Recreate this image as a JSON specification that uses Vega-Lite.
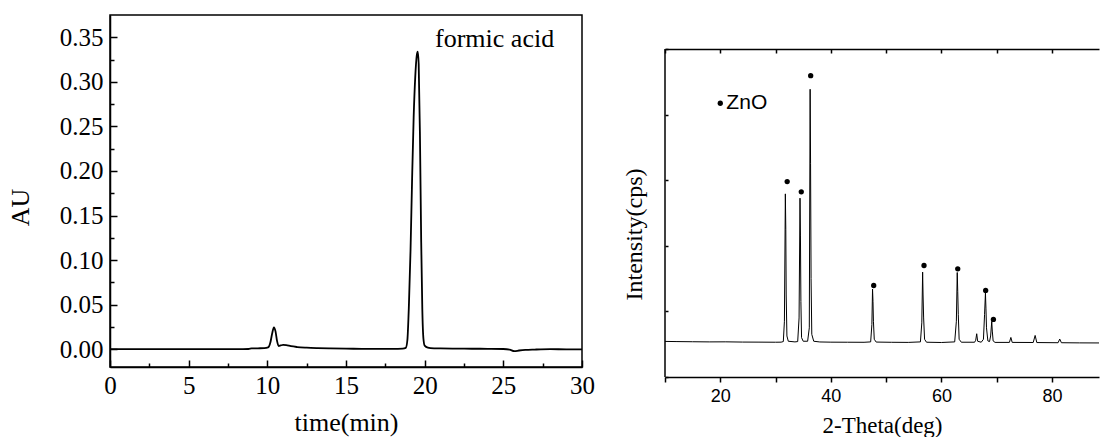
{
  "$schema": "https://vega.github.io/schema/vega-lite/v6.json",
  "padding": {"left": 6, "top": 14, "right": 0, "bottom": 0},
  "background": "white",
  "spacing": 26,
  "datasets": {
    "chrom": [
      {"t": 0, "au": 0}, {"t": 1, "au": 0}, {"t": 2, "au": 0.0001}, {"t": 3, "au": 0}, {"t": 4, "au": 0},
      {"t": 5, "au": 0.0001}, {"t": 6, "au": 0}, {"t": 7, "au": 0}, {"t": 8, "au": 0.0001}, {"t": 8.8, "au": 0.0002},
      {"t": 9.0, "au": 0.0008}, {"t": 9.4, "au": 0.001}, {"t": 9.8, "au": 0.0012}, {"t": 10.05, "au": 0.002},
      {"t": 10.2, "au": 0.008}, {"t": 10.3, "au": 0.017}, {"t": 10.42, "au": 0.0245}, {"t": 10.52, "au": 0.02},
      {"t": 10.62, "au": 0.009}, {"t": 10.72, "au": 0.0035}, {"t": 10.85, "au": 0.0042}, {"t": 11.0, "au": 0.0048},
      {"t": 11.2, "au": 0.0045}, {"t": 11.5, "au": 0.0033}, {"t": 11.9, "au": 0.0024}, {"t": 12.5, "au": 0.0017},
      {"t": 13.2, "au": 0.0012}, {"t": 14, "au": 0.0008}, {"t": 15, "au": 0.0006}, {"t": 16, "au": 0.0004},
      {"t": 17, "au": 0.0003}, {"t": 18, "au": 0.0003}, {"t": 18.6, "au": 0.0006}, {"t": 18.8, "au": 0.0015},
      {"t": 18.9, "au": 0.01}, {"t": 19.0, "au": 0.05}, {"t": 19.1, "au": 0.11}, {"t": 19.2, "au": 0.19},
      {"t": 19.3, "au": 0.26}, {"t": 19.4, "au": 0.305}, {"t": 19.5, "au": 0.33}, {"t": 19.56, "au": 0.334},
      {"t": 19.62, "au": 0.32}, {"t": 19.7, "au": 0.24}, {"t": 19.78, "au": 0.12}, {"t": 19.85, "au": 0.045},
      {"t": 19.92, "au": 0.012}, {"t": 20.0, "au": 0.004}, {"t": 20.2, "au": 0.0018}, {"t": 20.6, "au": 0.001},
      {"t": 21, "au": 0.0008}, {"t": 22, "au": 0.0006}, {"t": 23, "au": 0.0005}, {"t": 24, "au": 0.0004},
      {"t": 25, "au": 0.0002}, {"t": 25.4, "au": -0.0005}, {"t": 25.7, "au": -0.0022}, {"t": 26.0, "au": -0.0015},
      {"t": 26.4, "au": -0.0008}, {"t": 27, "au": -0.0004}, {"t": 28, "au": 0}, {"t": 29, "au": -0.0002}, {"t": 30, "au": -0.0002}
    ],
    "xrd": [
      {"deg": 10, "cps": 1085}, {"deg": 12, "cps": 1080}, {"deg": 15, "cps": 1075}, {"deg": 18, "cps": 1070},
      {"deg": 21, "cps": 1072}, {"deg": 24, "cps": 1065}, {"deg": 27, "cps": 1063}, {"deg": 30, "cps": 1060},
      {"deg": 31.0, "cps": 1062}, {"deg": 31.4, "cps": 1080}, {"deg": 31.6, "cps": 1700}, {"deg": 31.77, "cps": 5583},
      {"deg": 31.85, "cps": 4500}, {"deg": 31.92, "cps": 2500}, {"deg": 32.05, "cps": 1250}, {"deg": 32.3, "cps": 1090},
      {"deg": 33.5, "cps": 1070}, {"deg": 34.0, "cps": 1080}, {"deg": 34.25, "cps": 1800}, {"deg": 34.42, "cps": 5452},
      {"deg": 34.5, "cps": 4300}, {"deg": 34.58, "cps": 2300}, {"deg": 34.7, "cps": 1200}, {"deg": 35.0, "cps": 1090},
      {"deg": 35.8, "cps": 1090}, {"deg": 36.1, "cps": 1500}, {"deg": 36.25, "cps": 8772}, {"deg": 36.33, "cps": 6500},
      {"deg": 36.42, "cps": 3000}, {"deg": 36.55, "cps": 1300}, {"deg": 36.9, "cps": 1090}, {"deg": 38, "cps": 1068},
      {"deg": 40, "cps": 1062}, {"deg": 43, "cps": 1060}, {"deg": 46, "cps": 1058}, {"deg": 47.2, "cps": 1070},
      {"deg": 47.42, "cps": 1600}, {"deg": 47.54, "cps": 2680}, {"deg": 47.62, "cps": 2300}, {"deg": 47.7, "cps": 1700},
      {"deg": 47.85, "cps": 1150}, {"deg": 48.2, "cps": 1065}, {"deg": 51, "cps": 1058}, {"deg": 54, "cps": 1055},
      {"deg": 56.2, "cps": 1070}, {"deg": 56.45, "cps": 1650}, {"deg": 56.6, "cps": 3198}, {"deg": 56.68, "cps": 2500},
      {"deg": 56.78, "cps": 1800}, {"deg": 56.95, "cps": 1150}, {"deg": 57.3, "cps": 1060}, {"deg": 60, "cps": 1052},
      {"deg": 62.4, "cps": 1070}, {"deg": 62.7, "cps": 1700}, {"deg": 62.86, "cps": 3186}, {"deg": 62.95, "cps": 2600},
      {"deg": 63.05, "cps": 1900}, {"deg": 63.2, "cps": 1150}, {"deg": 63.6, "cps": 1060}, {"deg": 66.0, "cps": 1060},
      {"deg": 66.2, "cps": 1120}, {"deg": 66.38, "cps": 1319}, {"deg": 66.55, "cps": 1090}, {"deg": 67.2, "cps": 1060},
      {"deg": 67.6, "cps": 1150}, {"deg": 67.8, "cps": 1900}, {"deg": 67.96, "cps": 2559}, {"deg": 68.05, "cps": 2100},
      {"deg": 68.15, "cps": 1500}, {"deg": 68.4, "cps": 1100}, {"deg": 68.7, "cps": 1080}, {"deg": 68.9, "cps": 1250},
      {"deg": 69.1, "cps": 1694}, {"deg": 69.2, "cps": 1400}, {"deg": 69.35, "cps": 1100}, {"deg": 69.7, "cps": 1055},
      {"deg": 72.3, "cps": 1055}, {"deg": 72.56, "cps": 1206}, {"deg": 72.8, "cps": 1055}, {"deg": 76.6, "cps": 1052},
      {"deg": 76.95, "cps": 1267}, {"deg": 77.25, "cps": 1050}, {"deg": 81.1, "cps": 1045}, {"deg": 81.4, "cps": 1157},
      {"deg": 81.7, "cps": 1045}, {"deg": 85, "cps": 1040}, {"deg": 88.5, "cps": 1038}
    ],
    "dots": [
      {"deg": 32.1, "cps": 5958}, {"deg": 34.65, "cps": 5644}, {"deg": 36.35, "cps": 9187}, {"deg": 47.75, "cps": 2790},
      {"deg": 56.85, "cps": 3399}, {"deg": 62.95, "cps": 3299}, {"deg": 68.0, "cps": 2638}, {"deg": 69.4, "cps": 1754}
    ],
    "legend": [{"deg": 20.0, "cps": 8346, "tdeg": 21.1, "label": "ZnO"}],
    "border": [{"deg": 10, "cps": 0, "cps2": 10000}],
    "note": [{"t": 20.66, "au": 0.3388, "label": "formic acid"}]
  },
  "hconcat": [
    {
      "width": 472,
      "height": 352,
      "view": {"stroke": "black", "strokeWidth": 1.5},
      "resolve": {"axis": {"x": "independent", "y": "independent"}},
      "layer": [
        {
          "data": {"name": "chrom"},
          "mark": {"type": "line", "color": "black", "strokeWidth": 1.8, "interpolate": "monotone"},
          "encoding": {
            "x": {
              "field": "t", "type": "quantitative",
              "scale": {"domain": [0, 30], "nice": false, "zero": false},
              "axis": {
                "orient": "bottom",
                "values": [0, 5, 10, 15, 20, 25, 30],
                "format": "d",
                "tickSize": -7,
                "labelPadding": 13,
                "title": "time(min)",
                "titlePadding": 11
              }
            },
            "y": {
              "field": "au", "type": "quantitative",
              "scale": {"domain": [-0.02, 0.375], "nice": false, "zero": false},
              "axis": {
                "orient": "left",
                "values": [0, 0.05, 0.1, 0.15, 0.2, 0.25, 0.3, 0.35],
                "format": ".2f",
                "tickSize": -7,
                "labelPadding": 14,
                "title": "AU",
                "titlePadding": 26,
                "titleY": 192
              }
            }
          }
        },
        {
          "data": {"name": "note"},
          "mark": {"type": "text", "font": "Liberation Serif", "fontSize": 26, "align": "left", "baseline": "alphabetic", "color": "black"},
          "encoding": {
            "x": {
              "field": "t", "type": "quantitative",
              "axis": {"orient": "bottom", "values": [2.5, 7.5, 12.5, 17.5, 22.5, 27.5], "labels": false, "domain": false, "tickSize": -4, "title": null}
            },
            "y": {
              "field": "au", "type": "quantitative",
              "axis": {"orient": "left", "values": [0.025, 0.075, 0.125, 0.175, 0.225, 0.275, 0.325], "labels": false, "domain": false, "tickSize": -4, "title": null}
            },
            "text": {"field": "label"}
          }
        }
      ]
    },
    {
      "width": 434,
      "height": 362,
      "view": {"stroke": null},
      "resolve": {"axis": {"x": "independent"}},
      "layer": [
        {
          "data": {"name": "xrd"},
          "mark": {"type": "line", "color": "black", "strokeWidth": 1},
          "encoding": {
            "x": {
              "field": "deg", "type": "quantitative",
              "scale": {"domain": [10, 88.5], "nice": false, "zero": false},
              "axis": {
                "orient": "bottom",
                "values": [10, 20, 30, 40, 50, 60, 70, 80],
                "labelExpr": "datum.value % 20 == 0 ? format(datum.value, 'd') : ''",
                "tickSize": 5,
                "labelFont": "Liberation Sans",
                "labelFontSize": 18,
                "labelPadding": 5,
                "title": "2-Theta(deg)",
                "titleFont": "Liberation Serif",
                "titleFontSize": 23,
                "titlePadding": 9
              }
            },
            "y": {
              "field": "cps", "type": "quantitative",
              "scale": {"domain": [0, 11036], "nice": false, "zero": false},
              "axis": {
                "orient": "left",
                "values": [0, 1000, 2000, 3000, 4000, 5000, 6000, 7000, 8000, 9000, 10000],
                "labels": false,
                "domain": false,
                "tickSize": -3,
                "title": "Intensity(cps)",
                "titleFont": "Liberation Serif",
                "titleFontSize": 24,
                "titlePadding": 18,
                "titleY": 219
              }
            }
          }
        },
        {
          "data": {"name": "dots"},
          "mark": {"type": "point", "filled": true, "color": "black", "opacity": 1, "size": 28},
          "encoding": {
            "x": {
              "field": "deg", "type": "quantitative",
              "axis": {
                "orient": "top",
                "values": [10, 20, 30, 40, 50, 60, 70, 80],
                "labels": false,
                "tickSize": -4,
                "title": null,
                "offset": -34
              }
            },
            "y": {"field": "cps", "type": "quantitative"}
          }
        },
        {
          "data": {"name": "legend"},
          "mark": {"type": "point", "filled": true, "color": "black", "opacity": 1, "size": 28},
          "encoding": {
            "x": {"field": "deg", "type": "quantitative", "axis": null},
            "y": {"field": "cps", "type": "quantitative"}
          }
        },
        {
          "data": {"name": "legend"},
          "mark": {"type": "text", "font": "Liberation Sans", "fontSize": 21, "align": "left", "baseline": "middle", "color": "black"},
          "encoding": {
            "x": {"field": "tdeg", "type": "quantitative", "axis": null},
            "y": {"field": "cps", "type": "quantitative"},
            "text": {"field": "label"}
          }
        },
        {
          "data": {"name": "border"},
          "mark": {"type": "rule", "color": "black", "strokeWidth": 1.5},
          "encoding": {
            "x": {"field": "deg", "type": "quantitative", "axis": null},
            "y": {"field": "cps", "type": "quantitative"},
            "y2": {"field": "cps2"}
          }
        }
      ]
    }
  ],
  "config": {
    "axis": {
      "grid": false,
      "domainColor": "black",
      "domainWidth": 1.5,
      "tickColor": "black",
      "tickWidth": 1.5,
      "labelColor": "black",
      "titleColor": "black",
      "labelFont": "Liberation Serif",
      "labelFontSize": 25,
      "titleFont": "Liberation Serif",
      "titleFontSize": 26,
      "titleFontWeight": "normal",
      "labelFlush": false,
      "labelOverlap": false
    }
  }
}
